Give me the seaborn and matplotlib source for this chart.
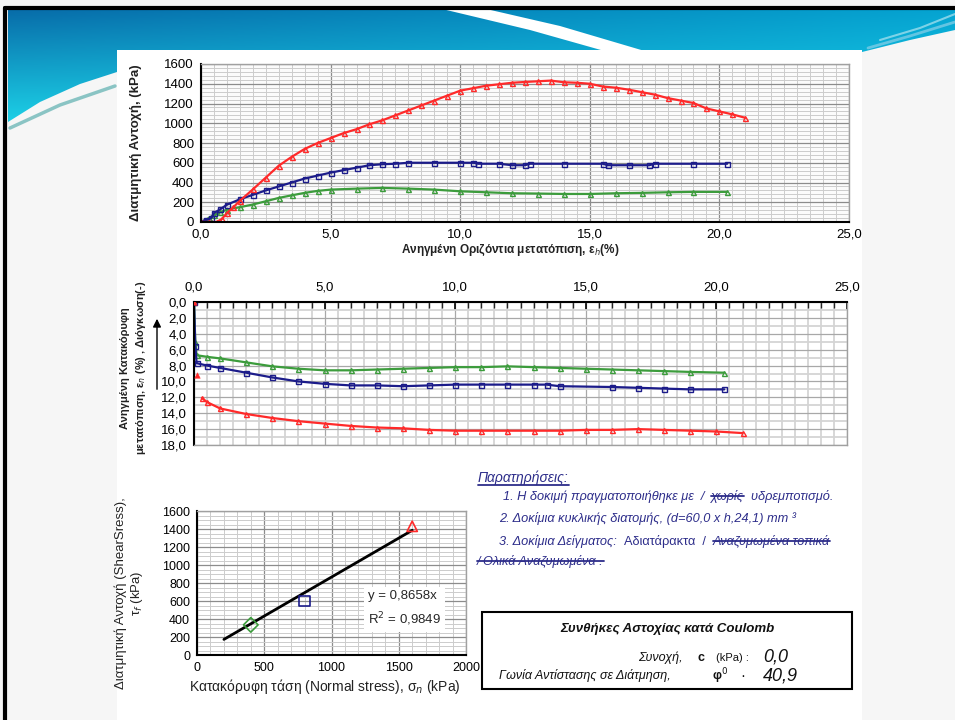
import numpy as np
import pandas as pd
import seaborn as sns
import matplotlib.pyplot as plt
from matplotlib.patches import Rectangle, Polygon
from matplotlib.lines import Line2D
from matplotlib.ticker import MultipleLocator, FuncFormatter

# --- data ---
# shear stress (kPa) vs normalised horizontal displacement (%)
eh_red = [0, 0.3, 0.6, 0.8, 1.0, 1.25, 1.5, 2.0, 2.5, 3.0, 3.5, 4.0, 4.5, 5.0, 5.5, 6.0, 6.5, 7.0,
          7.5, 8.0, 8.5, 9.0, 9.5, 10.0, 10.5, 11.0, 11.5, 12.0, 12.5, 13.0, 13.5, 14.0, 14.5, 15.0,
          15.5, 16.0, 16.5, 17.0, 17.5, 18.0, 18.5, 19.0, 19.5, 20.0, 20.5, 21.0]
tau_red = [0, 0, 0, 30, 90, 150, 215, 330, 450, 570, 660, 740, 800, 850, 900, 940, 990, 1030,
           1080, 1130, 1180, 1230, 1280, 1330, 1355, 1380, 1395, 1410, 1418, 1425, 1432, 1415, 1410, 1400,
           1372, 1360, 1340, 1315, 1290, 1255, 1230, 1205, 1150, 1120, 1090, 1055]

eh_blue = [0, 0.2, 0.4, 0.5, 0.75, 1.0, 1.5, 2.0, 2.5, 3.0, 3.5, 4.0, 4.5, 5.0, 5.5, 6.0, 6.5, 7.0,
           7.5, 8.0, 9.0, 10.0, 10.5, 10.7, 11.5, 12.0, 12.5, 12.7, 14.0, 15.5, 15.7, 16.5, 17.3,
           17.5, 19.0, 20.3]
tau_blue = [0, 20, 40, 90, 130, 175, 230, 275, 320, 360, 400, 440, 470, 500, 525, 550, 575, 585,
            590, 600, 600, 600, 600, 590, 590, 575, 575, 590, 590, 590, 575, 575, 575,
            590, 590, 590]

eh_green = [0, 0.3, 0.5, 0.75, 1.0, 1.5, 2.0, 2.5, 3.0, 3.5, 4.0, 4.5, 5.0, 6.0, 7.0, 8.0, 9.0, 10.0,
            11.0, 12.0, 13.0, 14.0, 15.0, 16.0, 17.0, 18.0, 19.0, 20.3]
tau_green = [0, 40, 70, 100, 125, 150, 177, 210, 244, 270, 295, 315, 328, 338, 345, 338, 328, 311,
             301, 291, 288, 284, 284, 291, 295, 301, 305, 305]

# normalised vertical displacement (%) vs horizontal displacement (%)
ev_x_green = [0, 0.05, 0.1, 0.5, 1, 2, 3, 4, 5, 6, 7, 8, 9, 10, 11, 12, 13, 14, 15, 16, 17, 18, 19, 20.3]
ev_green = [0, 5.0, 6.7, 6.9, 7.1, 7.6, 8.1, 8.4, 8.6, 8.6, 8.5, 8.4, 8.3, 8.2, 8.2, 8.1, 8.2, 8.3,
            8.4, 8.5, 8.6, 8.7, 8.8, 8.9]
ev_x_blue = [0, 0.05, 0.1, 0.5, 1, 2, 3, 4, 5, 6, 7, 8, 9, 10, 11, 12, 13, 13.5, 14, 16, 17, 18, 19, 20.3]
ev_blue = [0, 5.5, 7.7, 8.0, 8.3, 8.9, 9.5, 10.0, 10.3, 10.5, 10.5, 10.6, 10.5, 10.4, 10.4, 10.4,
           10.4, 10.4, 10.6, 10.7, 10.8, 10.9, 11.0, 11.0]
ev_x_red_start = [0, 0.1]
ev_red_start = [0, 9.2]
ev_x_red = [0.3, 0.5, 1, 2, 3, 4, 5, 6, 7, 8, 9, 10, 11, 12, 13, 14, 15, 16, 17, 18, 19, 20, 21]
ev_red = [12.1, 12.6, 13.4, 14.1, 14.6, 15.0, 15.3, 15.6, 15.8, 15.9, 16.1, 16.2, 16.2, 16.2, 16.2,
          16.2, 16.1, 16.1, 16.0, 16.1, 16.2, 16.3, 16.5]

# failure envelope
sigma_n = [400, 800, 1600]
tau_f = [335, 600, 1430]
fit_x = np.array([200, 1600])
slope = 0.8658
r2 = 0.9849
cohesion = 0.0
phi = 40.9

RED, BLUE, GREEN = '#ff2a2a', '#1c1c8a', '#3c9c3c'
NOTE = '#2d2d8a'

sns.set_style('white')
plt.rcParams['font.family'] = ['Liberation Sans', 'DejaVu Sans']
plt.rcParams['mathtext.fontset'] = 'dejavusans'

W, H = 955, 720
fig = plt.figure(figsize=(W / 100, H / 100), dpi=100)
fig.patch.set_facecolor('#f6f6f6')


def box(l, t, r, b):
    return [l / W, 1 - b / H, (r - l) / W, (b - t) / H]


# --- slide background ---
bg = fig.add_axes([0, 0, 1, 1])
bg.set_zorder(-1)
bg.set_xlim(0, W)
bg.set_ylim(H, 0)
bg.axis('off')

gy, gx = np.mgrid[0:1:80j, 0:1:200j]
c1 = np.array([0.03, 0.42, 0.66])
c2 = np.array([0.02, 0.64, 0.82])
c3 = np.array([0.12, 0.86, 0.93])
img = (c1 * ((1 - gx) * (1 - gy))[..., None] + c2 * (gx * (1 - gy))[..., None]
       + c3 * gy[..., None])
im = bg.imshow(img, extent=[0, W, 135, 8], aspect='auto', zorder=1)
band = Polygon([(8, 8), (955, 8), (955, 30), (910, 40), (862, 52), (117, 52), (117, 72),
                (80, 84), (40, 102), (8, 122)], closed=True, transform=bg.transData)
im.set_clip_path(band)
bg.add_patch(Polygon([(438, 8), (482, 8), (560, 26), (648, 52), (608, 52), (530, 30)],
                     closed=True, facecolor='white', edgecolor='none', zorder=2))
bg.plot([10, 60, 115], [128, 105, 86], color='#6fb8b8', lw=2.5, alpha=0.8, zorder=2)
bg.plot([868, 910, 955], [48, 36, 22], color='#8ad0e8', lw=2, alpha=0.7, zorder=2)
bg.plot([880, 920, 955], [40, 28, 14], color='#b0e4f0', lw=1.5, alpha=0.7, zorder=2)
bg.plot([5, 955], [8, 8], color='black', lw=3, zorder=3)
bg.plot([5, 5], [8, 720], color='black', lw=3, zorder=3)
bg.add_patch(Rectangle((117, 50), 745, 670, facecolor='white', edgecolor='none', zorder=2))
bg.add_patch(Rectangle((482, 612), 370, 77, facecolor='white', edgecolor='black', lw=1.5, zorder=3))

comma1 = FuncFormatter(lambda v, p: f'{v:.1f}'.replace('.', ','))
plain = FuncFormatter(lambda v, p: f'{v:.0f}')


def style_axes(ax, xmaj, xmin, ymaj, ymin, fs, minor_col='#cccccc', major_col='#8c8c8c'):
    ax.xaxis.set_major_locator(MultipleLocator(xmaj))
    ax.xaxis.set_minor_locator(MultipleLocator(xmin))
    ax.yaxis.set_major_locator(MultipleLocator(ymaj))
    ax.yaxis.set_minor_locator(MultipleLocator(ymin))
    ax.grid(which='minor', color=minor_col, lw=0.7)
    ax.grid(which='major', color=major_col, lw=0.9)
    ax.set_axisbelow(True)
    ax.tick_params(which='major', direction='inout', length=6, width=1.2, labelsize=fs,
                   colors='black', pad=2)
    ax.tick_params(which='minor', direction='inout', length=4, width=1)
    for s in ax.spines.values():
        s.set_color('#a0a0a0')
        s.set_linewidth(1)
    ax.set_xlabel('')
    ax.set_ylabel('')


def curve(ax, x, y, color, marker):
    sns.lineplot(x=x, y=y, ax=ax, color=color, lw=1.6, marker=marker, markersize=3.6,
                 markerfacecolor='none', markeredgecolor=color, markeredgewidth=1,
                 estimator=None, sort=False)


# --- chart 1: shear stress ---
ax1 = fig.add_axes(box(201, 64, 849, 222))
ax1.set_facecolor('#fbfbfb')
curve(ax1, eh_green, tau_green, GREEN, '^')
curve(ax1, eh_blue, tau_blue, BLUE, 's')
curve(ax1, eh_red, tau_red, RED, '^')
ax1.set_xlim(0, 25)
ax1.set_ylim(0, 1600)
style_axes(ax1, 5, 0.5, 200, 40, 9.5)
ax1.xaxis.set_major_formatter(comma1)
ax1.yaxis.set_major_formatter(plain)
for s in ['left', 'bottom']:
    ax1.spines[s].set_color('black')
    ax1.spines[s].set_linewidth(1.5)

# --- chart 2: vertical displacement ---
ax2 = fig.add_axes(box(194, 302, 847, 445))
ax2.set_facecolor('white')
curve(ax2, ev_x_green, ev_green, GREEN, '^')
curve(ax2, ev_x_blue, ev_blue, BLUE, 's')
curve(ax2, ev_x_red, ev_red, RED, '^')
sns.scatterplot(x=ev_x_red_start, y=ev_red_start, ax=ax2, color=RED, marker='^', s=16,
                edgecolor=RED, zorder=5)
ax2.set_xlim(0, 25)
ax2.set_ylim(18, 0)
style_axes(ax2, 5, 0.5, 2, 1, 9.5, minor_col='#d4d4d4', major_col='#a8a8a8')
ax2.grid(which='minor', color='#d4d4d4', lw=1.3)
ax2.xaxis.tick_top()
ax2.xaxis.set_major_formatter(comma1)
ax2.yaxis.set_major_formatter(comma1)
ax2.tick_params(axis='x', which='both', direction='in', pad=6)
for s in ['left', 'top']:
    ax2.spines[s].set_color('black')
    ax2.spines[s].set_linewidth(1.5)

# --- chart 3: failure envelope ---
ax3 = fig.add_axes(box(197, 511, 466, 655))
ax3.set_facecolor('white')
sns.lineplot(x=fit_x, y=slope * fit_x, ax=ax3, color='black', lw=2)
for xv, yv, m, c in zip(sigma_n, tau_f, ['D', 's', '^'], [GREEN, BLUE, RED]):
    sns.scatterplot(x=[xv], y=[yv], ax=ax3, marker=m, s=55, color=c, facecolor='none',
                    edgecolor=c, linewidth=1.2, zorder=5)
ax3.set_xlim(0, 2000)
ax3.set_ylim(0, 1600)
style_axes(ax3, 500, 100, 200, 50, 9)
ax3.xaxis.set_major_formatter(plain)
ax3.yaxis.set_major_formatter(plain)
for s in ['left', 'bottom']:
    ax3.spines[s].set_color('black')
    ax3.spines[s].set_linewidth(1.5)
ax3.text(1270, 510, f'y = {slope:.4f}x\nR$^2$ = {r2:.4f}'.replace('.', ','), fontsize=9.5,
         ha='left', va='center', linespacing=1.6,
         bbox=dict(facecolor='white', edgecolor='none', pad=3))

# --- axis titles ---
fig.text(136 / W, 1 - 143 / H, 'Διατμητική Αντοχή, (kPa)', rotation=90, ha='center',
         va='center', fontsize=9.5, fontweight='bold', color='#222222')
fig.text(510 / W, 1 - 250 / H, 'Ανηγμένη Οριζόντια μετατόπιση, ε$_h$(%)', ha='center',
         va='center', fontsize=8.5, fontweight='bold', color='#222222')
fig.text(134 / W, 1 - 368 / H, 'Ανηγμένη Κατακόρυφη\nμετατόπιση, ε$_n$ (%) , Διόγκωση(-)',
         rotation=90, ha='center', va='center', fontsize=8, fontweight='bold', color='#222222',
         linespacing=1.3)
bg.annotate('', xy=(157, 316), xytext=(157, 392),
            arrowprops=dict(arrowstyle='-|>', color='black', lw=1, mutation_scale=12))
fig.text(130 / W, 1 - 593 / H, 'Διατμητική Αντοχή (ShearSress),\nτ$_f$ (kPa)', rotation=90,
         ha='center', va='center', fontsize=9.5, color='#222222', linespacing=1.2)
fig.text(325 / W, 1 - 686 / H, 'Κατακόρυφη τάση (Normal stress), σ$_n$ (kPa)', ha='center',
         va='center', fontsize=10, color='#222222')

# --- notes ---
renderer = fig.canvas.get_renderer()


def row(x, y, parts, fs, color=NOTE, style='italic'):
    for s, mode in parts:
        st = 'normal' if mode == 'upright' else style
        t = fig.text(x / W, 1 - y / H, s, fontsize=fs, color=color, style=st, va='baseline')
        bb = t.get_window_extent(renderer)
        base = H - y
        if mode == 'strike':
            ym = base + fs * 1.389 * 0.32
            fig.add_artist(Line2D([bb.x0 / W, bb.x1 / W], [ym / H, ym / H], color=color,
                                  lw=1.3, transform=fig.transFigure))
        if mode == 'under':
            ym = base - 3
            fig.add_artist(Line2D([bb.x0 / W, bb.x1 / W], [ym / H, ym / H], color=color,
                                  lw=1.3, transform=fig.transFigure))
        x = bb.x1


row(478, 482, [('Παρατηρήσεις:', 'under')], 10)
row(503, 500, [('1. Η δοκιμή πραγματοποιήθηκε με  /  ', None), ('χωρίς', 'strike'),
               ('  υδρεμποτισμό.', None)], 9.2)
row(499, 522, [('2. Δοκίμια κυκλικής διατομής, (d=60,0 x h,24,1) mm ³', None)], 9.2)
row(499, 545, [('3. Δοκίμια Δείγματος:  ', None), ('Αδιατάρακτα  /  ', 'upright'),
               ('Αναζυμωμένα τοπικά', 'strike')], 9.2)
row(477, 565, [('/ Ολικά Αναζυμωμένα .', 'strike')], 9.2)

# --- Coulomb box ---
fig.text(667 / W, 1 - 629 / H, 'Συνθήκες Αστοχίας κατά Coulomb', ha='center', va='center',
         fontsize=9.5, fontweight='bold', style='italic', color='#111111')
fig.text(638 / W, 1 - 658 / H, 'Συνοχή,', ha='left', va='center', fontsize=9,
         style='italic', color='#111111')
fig.text(698 / W, 1 - 658 / H, 'c', ha='left', va='center', fontsize=9, fontweight='bold',
         color='#111111')
fig.text(716 / W, 1 - 658 / H, '(kPa) :', ha='left', va='center', fontsize=8,
         color='#111111')
fig.text(763 / W, 1 - 657 / H, f'{cohesion:.1f}'.replace('.', ','), ha='left', va='center',
         fontsize=13, style='italic', color='#111111')
fig.text(499 / W, 1 - 676 / H, 'Γωνία Αντίστασης σε Διάτμηση,', ha='left', va='center',
         fontsize=9, style='italic', color='#111111')
fig.text(712 / W, 1 - 676 / H, 'φ$^0$', ha='left', va='center', fontsize=9,
         fontweight='bold', color='#111111')
fig.text(740 / W, 1 - 676 / H, '·', ha='left', va='center', fontsize=11, color='#111111')
fig.text(763 / W, 1 - 676 / H, f'{phi:.1f}'.replace('.', ','), ha='left', va='center',
         fontsize=13, style='italic', color='#111111')

fig.savefig('out.png', dpi=100)
